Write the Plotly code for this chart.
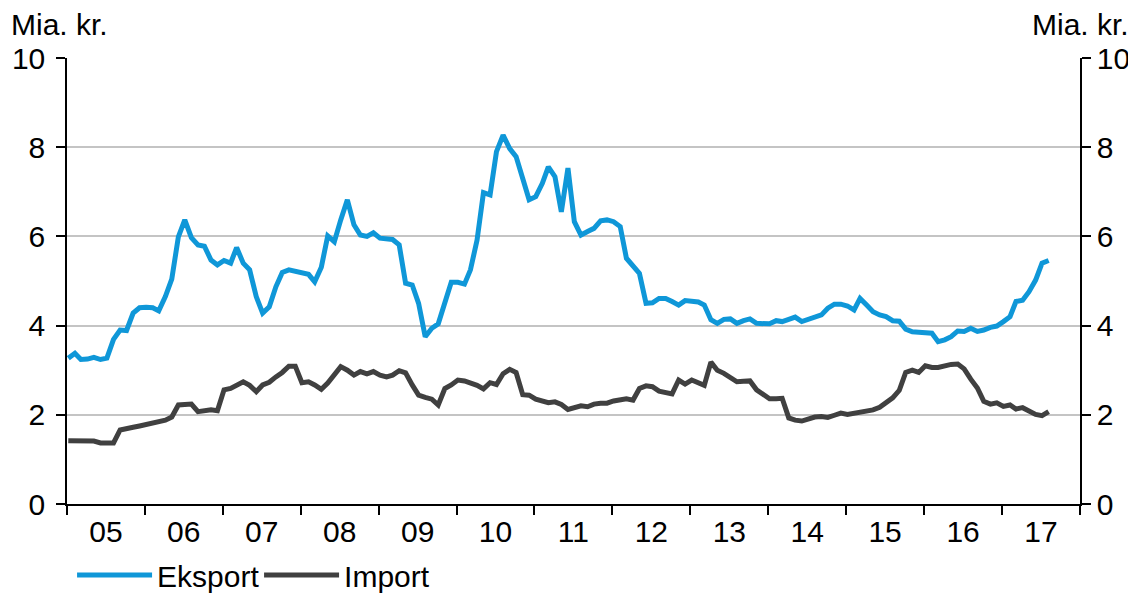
import pandas as pd
import plotly.graph_objects as go

start_month = "2005-01-01"
eksport = [3.27, 3.38, 3.24, 3.25, 3.29, 3.24, 3.27, 3.69, 3.90, 3.89, 4.28, 4.40,
           4.41, 4.40, 4.33, 4.65, 5.04, 5.99, 6.37, 5.97, 5.81, 5.78, 5.47, 5.36,
           5.46, 5.40, 5.75, 5.40, 5.25, 4.65, 4.28, 4.42, 4.87, 5.19, 5.25, 5.22,
           5.20, 5.15, 4.98, 5.31, 6.01, 5.88, 6.37, 6.82, 6.26, 6.03, 6.00, 6.08,
           5.96, 5.95, 5.93, 5.81, 4.95, 4.91, 4.50, 3.75, 3.94, 4.04, 4.54, 4.97,
           4.97, 4.93, 5.25, 5.92, 6.98, 6.93, 7.90, 8.27, 7.97, 7.79, 7.30, 6.82,
           6.89, 7.19, 7.56, 7.34, 6.55, 7.53, 6.33, 6.03, 6.11, 6.18, 6.35, 6.37,
           6.33, 6.22, 5.51, 5.34, 5.17, 4.50, 4.51, 4.61, 4.61, 4.54, 4.46, 4.56,
           4.54, 4.53, 4.46, 4.13, 4.05, 4.14, 4.15, 4.05, 4.11, 4.15, 4.05, 4.04,
           4.04, 4.11, 4.09, 4.14, 4.19, 4.09, 4.14, 4.18, 4.24, 4.39, 4.48, 4.48,
           4.44, 4.35, 4.61, 4.46, 4.31, 4.24, 4.20, 4.11, 4.10, 3.92, 3.86, 3.85,
           3.83, 3.83, 3.64, 3.68, 3.75, 3.88, 3.87, 3.94, 3.87, 3.90, 3.96, 3.99,
           4.09, 4.20, 4.54, 4.57, 4.76, 5.02, 5.40, 5.46]
importv = [1.42, 1.42, 1.42, 1.42, 1.41, 1.37, 1.37, 1.37, 1.66, 1.70, 1.72, 1.75,
           1.78, 1.81, 1.84, 1.88, 1.95, 2.22, 2.23, 2.24, 2.07, 2.10, 2.11, 2.09,
           2.56, 2.59, 2.67, 2.74, 2.66, 2.52, 2.67, 2.73, 2.85, 2.95, 3.09, 3.09,
           2.72, 2.74, 2.67, 2.57, 2.71, 2.89, 3.08, 3.00, 2.89, 2.97, 2.92, 2.97,
           2.89, 2.85, 2.89, 2.99, 2.94, 2.67, 2.44, 2.39, 2.35, 2.22, 2.59, 2.67,
           2.78, 2.76, 2.72, 2.66, 2.58, 2.72, 2.68, 2.92, 3.02, 2.95, 2.45, 2.44,
           2.35, 2.31, 2.27, 2.29, 2.23, 2.12, 2.17, 2.20, 2.18, 2.24, 2.26, 2.26,
           2.31, 2.35, 2.36, 2.33, 2.59, 2.65, 2.63, 2.53, 2.50, 2.47, 2.78, 2.69,
           2.78, 2.72, 2.66, 3.18, 3.00, 2.93, 2.82, 2.74, 2.75, 2.76, 2.56, 2.45,
           2.36, 2.36, 2.37, 1.93, 1.88, 1.86, 1.91, 1.95, 1.96, 1.94, 1.99, 2.04,
           2.01, 2.03, 2.06, 2.07, 2.11, 2.17, 2.27, 2.38, 2.55, 2.95, 3.00, 2.95,
           3.10, 3.06, 3.06, 3.11, 3.13, 3.14, 3.03, 2.80, 2.60, 2.30, 2.24, 2.27,
           2.19, 2.22, 2.13, 2.16, 2.08, 2.01, 1.98, 2.07]
series_names = ["Eksport", "Import"]
series_colors = ["#0f97d8", "#404040"]
y_ticks = [0, 2, 4, 6, 8, 10]
unit_label = "Mia. kr."

dates = pd.date_range(start_month, periods=len(eksport), freq="MS") + pd.Timedelta(days=6)

FONT = "Liberation Sans, Arial, sans-serif"
fs = 30

fig = go.Figure()
for name, vals, col in zip(series_names, [eksport, importv], series_colors):
    fig.add_trace(go.Scatter(x=dates, y=vals, name=name, mode="lines",
                             line=dict(color=col, width=5)))
# invisible trace to activate the right-hand axis
fig.add_trace(go.Scatter(x=dates, y=eksport, yaxis="y2", mode="lines",
                         line=dict(color="rgba(0,0,0,0)", width=0),
                         showlegend=False, hoverinfo="skip"))

axis_common = dict(range=[0, 10], tickvals=y_ticks, ticks="outside", ticklen=9,
                   tickcolor="black", tickwidth=1.5, showline=True,
                   linecolor="black", linewidth=1.5, zeroline=False,
                   automargin=False,
                   tickfont=dict(family=FONT, size=fs, color="black"))

# page body has an 8px margin, so the figure is sized to fit the window
fig.update_layout(
    template="none",
    width=1128, height=585,
    margin=dict(l=59, r=56, t=50, b=89, autoexpand=False),
    paper_bgcolor="white", plot_bgcolor="white",
    font=dict(family=FONT, size=fs, color="black"),
    xaxis=dict(type="date", range=["2005-01-01", "2018-01-01"],
               tick0="2005-01-01", dtick="M12", ticklabelmode="period",
               tickformat="%y", ticks="outside", ticklen=9, tickwidth=1.5,
               tickcolor="black", showline=True, linecolor="black",
               linewidth=1.5, showgrid=False, zeroline=False, automargin=False,
               ticklabelstandoff=-9,
               tickfont=dict(family=FONT, size=fs, color="black")),
    yaxis=dict(**axis_common, side="left", showgrid=True,
               gridcolor="#c4c4c4", gridwidth=1.5, ticklabelstandoff=5),
    yaxis2=dict(**axis_common, side="right", overlaying="y", showgrid=False),
    legend=dict(orientation="h", x=0.005, xanchor="left", y=-0.101,
                yanchor="top", font=dict(family=FONT, size=fs, color="black"),
                bgcolor="rgba(0,0,0,0)", itemwidth=75, tracegroupgap=0,
                entrywidth=97, entrywidthmode="pixels"),
    showlegend=True,
    annotations=[
        dict(text=unit_label, xref="paper", yref="paper", x=-0.057, y=1.075,
             xanchor="left", yanchor="middle", showarrow=False,
             font=dict(family=FONT, size=fs, color="black")),
        dict(text=unit_label, xref="paper", yref="paper", x=1.05, y=1.075,
             xanchor="right", yanchor="middle", showarrow=False,
             font=dict(family=FONT, size=fs, color="black")),
    ],
)

fig.write_html("out.html")
